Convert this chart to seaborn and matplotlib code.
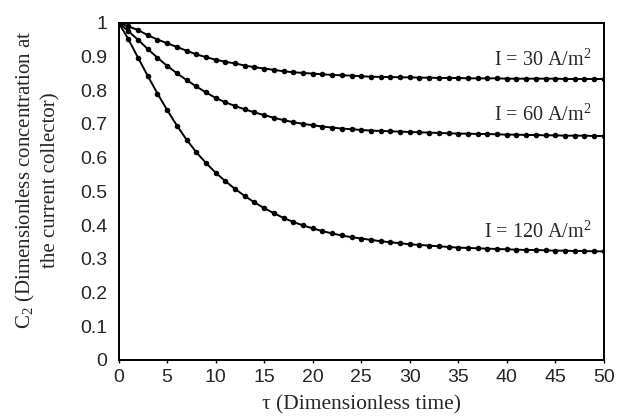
#!/usr/bin/env python3

import matplotlib
matplotlib.use("Agg")
import matplotlib.pyplot as plt
import numpy as np
import pandas as pd
import seaborn as sns

# Dimensionless time, one marker per unit
tau = list(range(0, 51))

# C2 at the current collector
c_30 = [1.000, 0.989, 0.978, 0.963, 0.950, 0.939, 0.928, 0.917, 0.906, 0.898,
        0.890, 0.884, 0.879, 0.873, 0.868, 0.864, 0.860, 0.856, 0.853, 0.851,
        0.849, 0.847, 0.845, 0.844, 0.843, 0.841, 0.840, 0.839, 0.839, 0.838,
        0.838, 0.837, 0.837, 0.836, 0.836, 0.836, 0.835, 0.835, 0.835, 0.835,
        0.834, 0.834, 0.834, 0.834, 0.834, 0.834, 0.833, 0.833, 0.833, 0.833,
        0.833]
c_60 = [1.000, 0.975, 0.949, 0.922, 0.896, 0.872, 0.850, 0.830, 0.811, 0.793,
        0.777, 0.764, 0.753, 0.743, 0.734, 0.726, 0.718, 0.711, 0.705, 0.700,
        0.696, 0.692, 0.689, 0.686, 0.684, 0.682, 0.680, 0.679, 0.678, 0.677,
        0.676, 0.675, 0.674, 0.673, 0.672, 0.671, 0.671, 0.670, 0.670, 0.669,
        0.668, 0.668, 0.667, 0.667, 0.666, 0.666, 0.665, 0.665, 0.665, 0.664,
        0.664]
c_120 = [1.000, 0.951, 0.896, 0.842, 0.790, 0.741, 0.695, 0.653, 0.616, 0.584,
         0.555, 0.530, 0.507, 0.486, 0.467, 0.450, 0.435, 0.421, 0.409, 0.399,
         0.390, 0.382, 0.375, 0.369, 0.364, 0.360, 0.356, 0.352, 0.349, 0.346,
         0.343, 0.341, 0.339, 0.337, 0.335, 0.333, 0.332, 0.331, 0.330, 0.329,
         0.328, 0.327, 0.326, 0.326, 0.325, 0.324, 0.324, 0.323, 0.323, 0.322,
         0.322]

labels = ["I = 30 A/m$^2$", "I = 60 A/m$^2$", "I = 120 A/m$^2$"]
label_y = [0.889, 0.726, 0.379]

sns.set_style("white")
plt.rcParams["font.family"] = ["Liberation Sans", "DejaVu Sans"]
plt.rcParams["mathtext.fontset"] = "custom"
plt.rcParams["mathtext.rm"] = "Liberation Serif"

data = pd.DataFrame({
    "tau": tau * 3,
    "C2": c_30 + c_60 + c_120,
    "I": [labels[0]] * len(tau) + [labels[1]] * len(tau) + [labels[2]] * len(tau),
})

fig = plt.figure(figsize=(6.18, 4.20), dpi=100)
ax = fig.add_axes([0.192, 0.143, 0.785, 0.803])

sns.lineplot(
    x="tau", y="C2", hue="I", data=data, ax=ax,
    palette=["black"] * 3, marker="o", markersize=4,
    markeredgewidth=0, linewidth=1.4, legend=False,
)

serif = ["Liberation Serif", "DejaVu Serif"]
for text, y in zip(labels, label_y):
    ax.text(48.7, y, text, ha="right", va="center", fontsize=14.5,
            family=serif)

ax.set(xlim=(0, 50), ylim=(0, 1),
       xticks=np.arange(0, 55, 5), yticks=np.arange(0, 1.05, 0.1))
ax.set_yticklabels(["0"] + ["%.1f" % v for v in np.arange(0.1, 1.0, 0.1)] + ["1"])

ax.set_xlabel("\u03c4 (Dimensionless time)", fontsize=15.5, family=serif,
              labelpad=7)
ax.set_ylabel("C$_2$ (Dimensionless concentration at\nthe current collector)",
              fontsize=15, family=serif, linespacing=1.3)
ax.yaxis.set_label_coords(-0.12, 0.534)

ax.tick_params(axis="x", length=2.5, width=1, pad=4, labelsize=14,
               bottom=True, color="black")
ax.tick_params(axis="y", length=0, pad=8, labelsize=14)

for s in ax.spines.values():
    s.set_color("black")
    s.set_linewidth(1.4)

fig.savefig("out.png", dpi=100)
